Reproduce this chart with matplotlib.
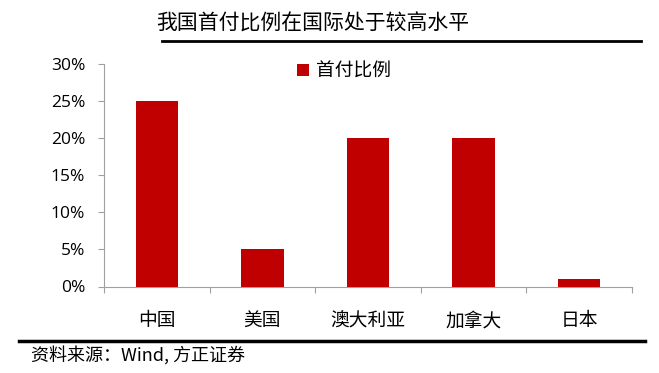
import matplotlib
matplotlib.use("Agg")
import matplotlib.pyplot as plt
from matplotlib.lines import Line2D

plt.rcParams['font.family'] = ['Noto Sans CJK SC', 'DejaVu Sans']

categories = ['中国', '美国', '澳大利亚', '加拿大', '日本']
values = [25, 5, 20, 20, 1]
series_name = '首付比例'
title = '我国首付比例在国际处于较高水平'
source = '资料来源：Wind, 方正证券'
yticks = [0, 5, 10, 15, 20, 25, 30]

fig = plt.figure(figsize=(6.59, 3.73), dpi=100)
W, H = 659, 373
ax = fig.add_axes([104/W, 1-286.5/H, (632-104)/W, (286.5-64)/H])

x = list(range(len(categories)))
ax.bar(x, values, width=0.4, color='#C00000', label=series_name, zorder=3)
ax.set_xlim(-0.5, len(categories)-0.5)
ax.set_ylim(0, 30)
ax.set_yticks(yticks)
ax.set_yticklabels([f'{v}%' for v in yticks], fontsize=12.5, family=['Open Sans', 'DejaVu Sans'])
ax.set_xticks([i - 0.5 for i in range(len(categories)+1)])
ax.set_xticklabels([])
ax.set_xticks(x, minor=True)
ax.set_xticklabels(categories, minor=True, fontsize=13.5)
ax.tick_params(axis='x', which='minor', length=0, pad=17)
ax.tick_params(axis='x', which='major', length=4.5, color='#A0A0A0', direction='out')
ax.tick_params(axis='y', length=4.5, color='#A0A0A0', direction='out', pad=9)
for s in ['top', 'right']:
    ax.spines[s].set_visible(False)
for s in ['left', 'bottom']:
    ax.spines[s].set_color('#A0A0A0')

leg = ax.legend(loc='center left', bbox_to_anchor=(297/W, 1-71/H), bbox_transform=fig.transFigure,
                frameon=False, borderpad=0, borderaxespad=0,
                fontsize=13.5, handlelength=0.64, handleheight=0.64, handletextpad=0.35)

fig.text(313/W, 1-24/H, title, ha='center', va='center', fontsize=15)
fig.add_artist(Line2D([162/W, 641/W], [1-40.5/H, 1-40.5/H], color='black', lw=2))
fig.add_artist(Line2D([19/W, 645/W], [1-340.5/H, 1-340.5/H], color='black', lw=2.5))
fig.text(31/W, 1-355/H, source, ha='left', va='center', fontsize=13, style='italic')

fig.savefig('out.png', dpi=100)
